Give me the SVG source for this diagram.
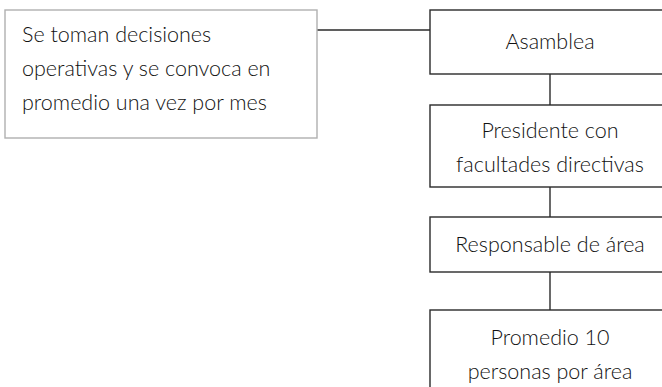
<svg xmlns="http://www.w3.org/2000/svg" width="662" height="387" viewBox="0 0 662 387">
<style>
.box{fill:#fff;stroke:#2a2a2a;stroke-width:1.4}
.note{fill:#fff;stroke:#b0b0b0;stroke-width:1.4}
.t{font-family:Lato,"Open Sans","Liberation Sans",sans-serif;font-size:21.5px;fill:#111;font-weight:300}
.c{text-anchor:middle}
.ln{stroke:#2a2a2a;stroke-width:1.4;fill:none}
</style>
<rect width="662" height="387" fill="#fff"/>
<g id="connectors">
<line class="ln" x1="317" y1="30" x2="430" y2="30"/>
<line class="ln" x1="550" y1="74" x2="550" y2="105"/>
<line class="ln" x1="550" y1="187" x2="550" y2="217"/>
<line class="ln" x1="550" y1="272" x2="550" y2="310"/>
</g>
<g id="note">
<rect class="note" x="5" y="10" width="312" height="128"/>
<text class="t" x="22" y="42">Se toman decisiones</text>
<text class="t" x="22" y="76">operativas y se convoca en</text>
<text class="t" x="22" y="110">promedio una vez por mes</text>
</g>
<g id="asamblea">
<rect class="box" x="430" y="10" width="242" height="64"/>
<text class="t c" x="550" y="49">Asamblea</text>
</g>
<g id="presidente">
<rect class="box" x="430" y="105" width="242" height="82"/>
<text class="t c" x="550" y="138">Presidente con</text>
<text class="t c" x="550" y="172">facultades directivas</text>
</g>
<g id="responsable">
<rect class="box" x="430" y="217" width="242" height="55"/>
<text class="t c" x="550" y="252">Responsable de área</text>
</g>
<g id="promedio">
<rect class="box" x="430" y="310" width="242" height="90"/>
<text class="t c" x="550" y="345">Promedio 10</text>
<text class="t c" x="550" y="379">personas por área</text>
</g>
</svg>
